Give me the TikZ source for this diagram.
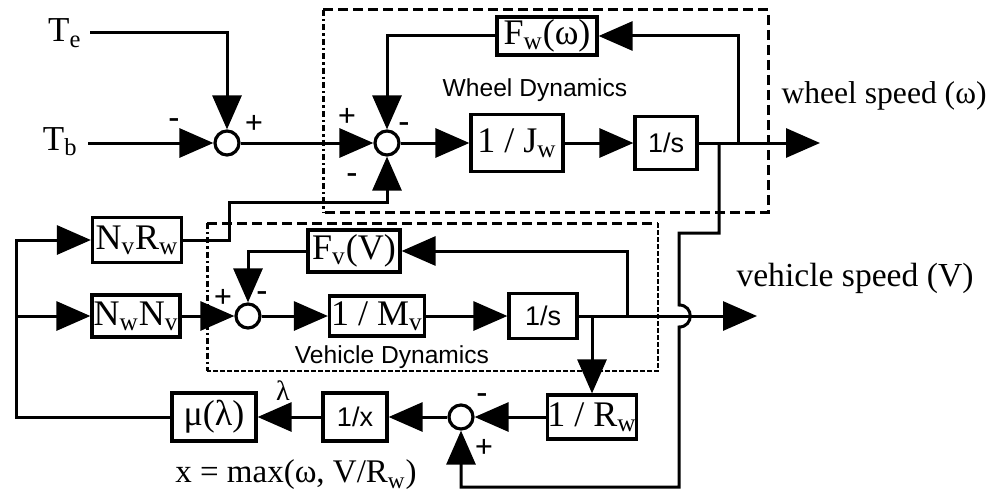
\documentclass[tikz,border=0pt]{standalone}
\usepackage{fontspec}
\setmainfont{Liberation Serif}
\newfontfamily\hv{Liberation Sans}
\usetikzlibrary{arrows.meta}
\begin{document}
\begin{tikzpicture}[x=0.5pt,y=-0.5pt, line width=1.5pt,
  blk/.style={draw, line width=1.6pt, inner sep=0pt, font=\fontsize{18}{20}\selectfont},
  sblk/.style={draw, line width=1.6pt, inner sep=0pt, font=\hv\fontsize{13.5}{15}\selectfont},
  sm/.style={circle, draw, line width=1.6pt, minimum size=12pt, inner sep=0pt},
  arr/.style={-{Triangle[length=17pt,width=14.5pt]}},
  sgn/.style={font=\bfseries\fontsize{16}{17}\selectfont, inner sep=0pt},
  ttl/.style={font=\hv\fontsize{12.3}{14}\selectfont, inner sep=0pt},
  lbl/.style={font=\fontsize{16.5}{18}\selectfont, inner sep=0pt},
  dsh/.style={line width=1.5pt, dash pattern=on 5pt off 2.5pt},
  dshdot/.style={line width=1.5pt, dash pattern=on 3pt off 1.5pt on 1.2pt off 1.5pt},
  dshfine/.style={line width=1.2pt, dash pattern=on 2.5pt off 1pt}
]
\useasboundingbox (0,0) rectangle (988,492);

% subsystem frames
\draw[dsh] (323,10) -- (768,10) -- (768,212) -- (323,212);
\draw[dshdot] (323,10) -- (323,212);
\draw[dsh] (207,223) -- (658,223);
\draw[dshfine] (658,223) -- (658,371) -- (207,371);
\draw[dshdot] (207,223) -- (207,371);

% wheel dynamics
\node[sm] (S1) at (227,143) {};
\node[sm] (S2) at (387,143) {};
\node[blk, minimum width=46pt, minimum height=28.5pt] (Jw) at (517,143) {1 / J\textsubscript{w}};
\node[sblk, minimum width=31pt, minimum height=26.5pt] (Ws) at (666,143) {1/s};
\node[blk, minimum width=50pt, minimum height=19pt] (Fw) at (547,36) {F\textsubscript{w}(ω)};

% vehicle dynamics
\node[blk, minimum width=44.5pt, minimum height=22.5pt] (NvRw) at (137,240) {N\textsubscript{v}R\textsubscript{w}};
\node[blk, minimum width=44pt, minimum height=21pt] (NwNv) at (136,316) {N\textsubscript{w}N\textsubscript{v}};
\node[sm] (S4) at (248,316) {};
\node[blk, minimum width=47.5pt, minimum height=20pt] (Mv) at (377,316) {1 / M\textsubscript{v}};
\node[sblk, minimum width=34pt, minimum height=22.5pt] (Vs) at (543,316) {1/s};
\node[blk, minimum width=46pt, minimum height=21pt] (Fv) at (354,251) {F\textsubscript{v}(V)};

% slip computation
\node[blk, minimum width=44pt, minimum height=22pt] (Rw) at (592,417) {1 / R\textsubscript{w}};
\node[sm] (S3) at (461,417) {};
\node[sblk, minimum width=32pt, minimum height=24pt] (Ix) at (355,417) {1/x};
\node[blk, minimum width=42pt, minimum height=24pt] (Mu) at (214,417) {μ(λ)};

% inputs
\node[lbl, anchor=base east, font=\fontsize{17.5}{19}\selectfont] (Te) at (83,42) {T\textsubscript{e}};
\node[lbl, anchor=base east, font=\fontsize{17.5}{19}\selectfont] (Tb) at (79,150) {T\textsubscript{b}};
\coordinate (TeS) at (90,33);
\coordinate (TbS) at (88,143);

% connectors: wheel
\draw[arr] (TeS) -| (S1.north);
\draw[arr] (TbS) -- (S1.west);
\draw[arr] (S1.east) -- (S2.west);
\draw[arr] (S2.east) -- (Jw.west);
\draw[arr] (Jw.east) -- (Ws.west);
\coordinate (Wout) at (820,143);
\draw[arr] (Ws.east) -- (Wout);
\coordinate (Wb1) at (738,143);
\draw[arr] (Wb1) |- (Fw.east);
\draw[arr] (Fw.west) -| (S2.north);
\coordinate (C1) at (229,202);
\draw[arr] (NvRw.east) -| (C1) -| (S2.south);

% wheel speed down to slip sum, jumping over vehicle speed
\coordinate (Wb2) at (719,143);
\coordinate (C2) at (679,233);
\coordinate (J1) at (679,305);
\coordinate (J2) at (679,327);
\coordinate (C3) at (679,487);
\draw[arr] (Wb2) |- (C2) -- (J1) .. controls (694,305) and (694,327) .. (J2) -- (C3) -| (S3.south);

% connectors: vehicle
\draw[arr] (NwNv.east) -- (S4.west);
\draw[arr] (S4.east) -- (Mv.west);
\draw[arr] (Mv.east) -- (Vs.west);
\coordinate (Vout) at (757,316);
\draw[arr] (Vs.east) -- (Vout);
\coordinate (Vb1) at (627,316);
\draw[arr] (Vb1) |- (Fv.east);
\draw[arr] (Fv.west) -| (S4.north);
\coordinate (Vb2) at (592,316);
\draw[arr] (Vb2) -- (Rw.north);

% connectors: slip
\draw[arr] (Rw.west) -- (S3.east);
\draw[arr] (S3.west) -- (Ix.east);
\draw[arr] (Ix.west) -- (Mu.east);
\coordinate (Lb) at (16,417);
\coordinate (Lm) at (16,316);
\draw[arr] (Mu.west) -- (Lb) |- (NvRw.west);
\draw[arr] (Lm) -- (NwNv.west);

% signs
\node[sgn] (s1a) at (174,123) {-};
\node[sgn] (s1b) at (254,124) {+};
\node[sgn] (s2a) at (347,117) {+};
\node[sgn] (s2b) at (404,127) {-};
\node[sgn] (s2c) at (352,178) {-};
\node[sgn] (s4a) at (223,298) {+};
\node[sgn] (s4b) at (262,296) {-};
\node[sgn] (s3a) at (482,398) {-};
\node[sgn] (s3b) at (484,448) {+};

% titles and labels
\node[ttl] (wd) at (535,90) {Wheel Dynamics};
\node[ttl] (vd) at (392,357) {Vehicle Dynamics};
\node[inner sep=0pt, anchor=west, font=\fontsize{15.8}{18}\selectfont] (ws) at (780,96) {wheel speed (ω)};
\node[inner sep=0pt, anchor=west, font=\fontsize{16.8}{19}\selectfont] (vs) at (735,278) {vehicle speed (V)};
\node[inner sep=0pt, font=\fontsize{14}{16}\selectfont] (lam) at (283,391) {λ};
\node[lbl] (xdef) at (296,475) {x = max(ω, V/R\textsubscript{w})};
\end{tikzpicture}
\end{document}
